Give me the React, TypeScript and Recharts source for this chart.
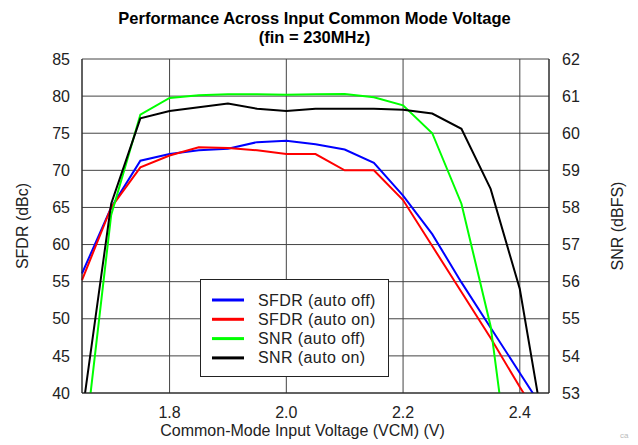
import React from "react";
import { LineChart, Line, XAxis, YAxis, CartesianGrid, Legend } from "recharts";

const vcm = [1.65, 1.7, 1.75, 1.8, 1.85, 1.9, 1.95, 2.0, 2.05, 2.1, 2.15, 2.2, 2.25, 2.3, 2.35, 2.4, 2.45];
const sfdrAutoOff = [56.1, 65.0, 71.3, 72.2, 72.7, 72.9, 73.8, 74.0, 73.5, 72.8, 71.0, 66.6, 61.4, 54.9, 48.8, 42.7, 36.6];
const sfdrAutoOn = [55.2, 65.0, 70.4, 72.0, 73.1, 73.0, 72.7, 72.2, 72.2, 70.0, 70.0, 66.0, 59.8, 53.6, 47.4, 40.8, 34.6];
const snrAutoOff = [51.0, 57.8, 60.5, 60.95, 61.02, 61.05, 61.05, 61.04, 61.05, 61.06, 60.97, 60.75, 60.0, 58.1, 54.8, 48.8, null];
const snrAutoOn = [52.4, 58.1, 60.4, 60.6, 60.7, 60.8, 60.66, 60.6, 60.66, 60.66, 60.66, 60.63, 60.53, 60.12, 58.5, 55.8, 51.2];

const xTicks = [1.8, 2.0, 2.2, 2.4];
const sfdrTicks = [40, 45, 50, 55, 60, 65, 70, 75, 80, 85];
const snrTicks = [53, 54, 55, 56, 57, 58, 59, 60, 61, 62];

const rows = vcm.map((v, i) => ({
  vcm: v,
  sfdrOff: sfdrAutoOff[i],
  sfdrOn: sfdrAutoOn[i],
  snrOff: snrAutoOff[i],
  snrOn: snrAutoOn[i],
}));

const FONT = "'Liberation Sans', Arial, sans-serif";
const tickStyle = { fontSize: 16, fill: "#222", fontFamily: FONT };

function LegendBox(props: any) {
  const items = props.payload || [];
  return (
    <svg width={189} height={98} style={{ display: "block" }}>
      <rect x={0.5} y={0.5} width={188} height={97} fill="#fff" stroke="#222" />
      {items.map((it: any, i: number) => {
        const y = 21 + i * 19.3;
        return (
          <g key={it.value}>
            <line x1={12} x2={44} y1={y} y2={y} stroke={it.color} strokeWidth={3} />
            <text x={58} y={y} dominantBaseline="central" fontSize={16} letterSpacing={0.4} fontFamily={FONT} fill="#222">
              {it.value}
            </text>
          </g>
        );
      })}
    </svg>
  );
}

export default function App() {
  return (
    <div style={{ position: "absolute", left: 0, top: 0, width: 638, height: 445, background: "#fff", fontFamily: FONT }}>
      <div
        style={{
          position: "absolute",
          left: 0,
          width: 629,
          top: 9,
          textAlign: "center",
          fontWeight: "bold",
          fontSize: 16.5,
          lineHeight: "18.5px",
          color: "#000",
        }}
      >
        Performance Across Input Common Mode Voltage
        <br />
        (fin = 230MHz)
      </div>
      <LineChart width={638} height={445} data={rows} margin={{ top: 59, right: 49, bottom: 22, left: 42 }}>
        <CartesianGrid yAxisId="sfdr" stroke="#444" strokeWidth={1} />
        <XAxis
          dataKey="vcm"
          type="number"
          domain={[1.65, 2.45]}
          ticks={xTicks}
          tickFormatter={(v: number) => v.toFixed(1)}
          height={30}
          tickSize={0}
          tickMargin={14}
          axisLine={{ stroke: "#222" }}
          tick={tickStyle}
          label={{
            value: "Common-Mode Input Voltage (VCM) (V)",
            position: "bottom",
            offset: 2,
            dx: -13,
            style: { fontSize: 16, fill: "#222", fontFamily: FONT },
          }}
        />
        <YAxis
          yAxisId="sfdr"
          domain={[40, 85]}
          ticks={sfdrTicks}
          allowDataOverflow
          width={40}
          tickSize={0}
          tickMargin={12}
          axisLine={{ stroke: "#222" }}
          tick={tickStyle}
          label={{
            content: (p: any) => {
              const vb = p.viewBox;
              const cx = vb.x - 20;
              const cy = vb.y + vb.height / 2;
              return (
                <text x={cx} y={cy} transform={`rotate(-90 ${cx} ${cy})`} textAnchor="middle" dominantBaseline="central" fontSize={16} fontFamily={FONT} fill="#222">
                  SFDR (dBc)
                </text>
              );
            },
          }}
        />
        <YAxis
          yAxisId="snr"
          orientation="right"
          domain={[53, 62]}
          ticks={snrTicks}
          allowDataOverflow
          width={40}
          tickSize={0}
          tickMargin={13}
          axisLine={{ stroke: "#222" }}
          tick={tickStyle}
          label={{
            content: (p: any) => {
              const vb = p.viewBox;
              const cx = vb.x + 68;
              const cy = vb.y + vb.height / 2;
              return (
                <text x={cx} y={cy} transform={`rotate(-90 ${cx} ${cy})`} textAnchor="middle" dominantBaseline="central" fontSize={16} fontFamily={FONT} fill="#222">
                  SNR (dBFS)
                </text>
              );
            },
          }}
        />
        <Legend
          layout="vertical"
          align="center"
          verticalAlign="middle"
          content={<LegendBox />}
          wrapperStyle={{ left: 200, top: 279, width: 189, height: 98 }}
        />
        <Line yAxisId="sfdr" dataKey="sfdrOff" name="SFDR (auto off)" stroke="#0000ff" strokeWidth={2} dot={false} type="linear" isAnimationActive={false} />
        <Line yAxisId="sfdr" dataKey="sfdrOn" name="SFDR (auto on)" stroke="#ff0000" strokeWidth={2} dot={false} type="linear" isAnimationActive={false} />
        <Line yAxisId="snr" dataKey="snrOff" name="SNR (auto off)" stroke="#00ff00" strokeWidth={2} dot={false} type="linear" isAnimationActive={false} />
        <Line yAxisId="snr" dataKey="snrOn" name="SNR (auto on)" stroke="#000000" strokeWidth={2} dot={false} type="linear" isAnimationActive={false} />
      </LineChart>
      <div style={{ position: "absolute", left: 620, top: 431, fontSize: 8, color: "#bbb" }}>ca</div>
    </div>
  );
}
